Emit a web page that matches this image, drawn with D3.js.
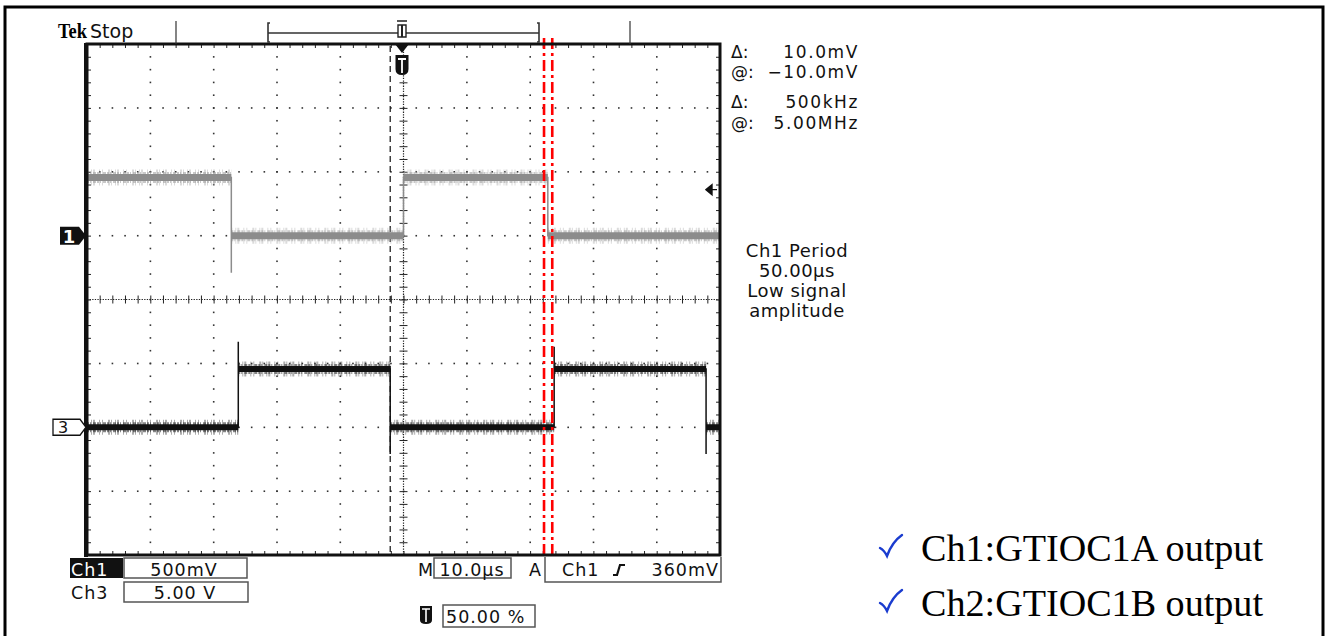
<!DOCTYPE html>
<html>
<head>
<meta charset="utf-8">
<script src="https://cdn.jsdelivr.net/npm/d3@7"></script>
<style>
    body { margin: 0; background: #fff; }
    svg { display: block; }
    .scr { font-family: 'DejaVu Sans', sans-serif; fill: #111; }
</style>
</head>
<body>
<svg id="scope" width="1327" height="636"></svg>
<script>
// Screen: 10 horizontal divisions of 10 us, 8 vertical divisions
const timeDomain = [-50, 50];      // us
const divDomain = [4, -4];         // divisions, top to bottom

// Ch1 (500 mV/div, ground at +1 div), gray trace
const ch1Ground = 1;
const ch1Scale = 500;
const ch1Time = [-50, -27.2, -27.2, -27.2, 0, 0, 22.8, 22.8, 50];
const ch1MilliV = [455, 455, -290, 0, 0, 455, 455, 0, 0];

// Ch3 (5 V/div, ground at -2 div), black trace
const ch3Ground = -2;
const ch3Scale = 5;
const ch3Time = [-50, -26.1, -26.1, -26.1, -2.1, -2.1, -2.1, 23.8, 23.8, 23.8, 47.8, 47.8, 47.8, 50];
const ch3Volts = [0, 0, 6.7, 4.55, 4.55, -2.1, 0, 0, 6.3, 4.55, 4.55, -2.1, 0, 0];

// Cursors and trigger
const redCursors = [22.2, 23.5];   // us
const blackCursor = -2.1;          // us
const triggerLevel = 360;          // mV on Ch1

const measureLines = [['\u0394:', '10.0mV'], ['@:', '\u221210.0mV'], ['\u0394:', '500kHz'], ['@:', '5.00MHz']];
const periodLines = ['Ch1 Period', '50.00\u00b5s', 'Low signal', 'amplitude'];
const legendLines = ['Ch1:GTIOC1A output', 'Ch2:GTIOC1B output'];

const svg = d3.select( '#scope' );

const x = d3.scaleLinear().domain( timeDomain ).range( [87, 720] );
const yDiv = d3.scaleLinear().domain( divDomain ).range( [44, 555] );
const y1 = v => yDiv( ch1Ground + v / ch1Scale );
const y3 = v => yDiv( ch3Ground + v / ch3Scale );

// Outer page frame
svg.append( 'rect' )
    .attr( 'x', 5 ).attr( 'y', 7 )
    .attr( 'width', 1318 ).attr( 'height', 640 )
    .attr( 'fill', 'none' ).attr( 'stroke', '#000' ).attr( 'stroke-width', 3 );

// Grid dots
const grid = svg.append( 'g' ).attr( 'fill', '#333' );
const minorT = d3.range( -50, 50.01, 2 );
const minorD = d3.range( -4, 4.01, 0.2 );
d3.range( -40, 41, 10 ).filter( t => t !== 0 ).forEach( t => {
    grid.selectAll( null ).data( minorD ).join( 'rect' )
        .attr( 'x', x( t ) - 0.7 ).attr( 'y', d => yDiv( d ) - 0.7 )
        .attr( 'width', 1.6 ).attr( 'height', 1.6 );
} );
d3.range( -3, 4, 1 ).filter( d => d !== 0 ).forEach( dv => {
    grid.selectAll( null ).data( minorT ).join( 'rect' )
        .attr( 'x', t => x( t ) - 0.7 ).attr( 'y', yDiv( dv ) - 0.7 )
        .attr( 'width', 1.6 ).attr( 'height', 1.6 );
} );

// Center cross: dense dotted lines plus tick marks
svg.append( 'line' )
    .attr( 'x1', x( 0 ) ).attr( 'x2', x( 0 ) ).attr( 'y1', 44 ).attr( 'y2', 555 )
    .attr( 'stroke', '#222' ).attr( 'stroke-width', 1.2 ).attr( 'stroke-dasharray', '1.3,1.3' );
svg.append( 'line' )
    .attr( 'x1', 87 ).attr( 'x2', 720 ).attr( 'y1', yDiv( 0 ) ).attr( 'y2', yDiv( 0 ) )
    .attr( 'stroke', '#222' ).attr( 'stroke-width', 1.2 ).attr( 'stroke-dasharray', '1.3,1.3' );

function ticks( axis, tx, ty ) {
    const g = svg.append( 'g' ).attr( 'transform', 'translate(' + tx + ',' + ty + ')' ).call( axis );
    g.select( '.domain' ).remove();
    g.selectAll( 'line' ).attr( 'stroke', '#222' ).attr( 'stroke-width', 1 );
    g.selectAll( 'text' ).remove();
    return g;
}
ticks( d3.axisBottom( x ).tickValues( minorT ).tickSize( 8 ).tickFormat( '' ), 0, yDiv( 0 ) - 4 );
ticks( d3.axisRight( yDiv ).tickValues( minorD ).tickSize( 8 ).tickFormat( '' ), x( 0 ) - 4, 0 );
ticks( d3.axisBottom( x ).tickValues( minorT ).tickSize( 4 ).tickFormat( '' ), 0, 44 );
ticks( d3.axisTop( x ).tickValues( minorT ).tickSize( 4 ).tickFormat( '' ), 0, 555 );
ticks( d3.axisRight( yDiv ).tickValues( minorD ).tickSize( 4 ).tickFormat( '' ), 87, 0 );
ticks( d3.axisLeft( yDiv ).tickValues( minorD ).tickSize( 4 ).tickFormat( '' ), 720, 0 );

// Black dashed cursor
svg.append( 'line' )
    .attr( 'x1', x( blackCursor ) ).attr( 'x2', x( blackCursor ) ).attr( 'y1', 46 ).attr( 'y2', 555 )
    .attr( 'stroke', '#111' ).attr( 'stroke-width', 1.2 ).attr( 'stroke-dasharray', '6,4' );

// Traces
function drawTrace( times, values, yFn, core, halo, coreW ) {
    const pts = times.map( ( t, i ) => [x( t ), yFn( values[i] )] );
    const g = svg.append( 'g' );
    for ( let i = 1; i < pts.length; i++ ) {
        if ( values[i] === values[i - 1] && times[i] !== times[i - 1] ) {
            const seg = [pts[i - 1], pts[i]];
            g.append( 'path' ).attr( 'd', d3.line()( seg ) )
                .attr( 'fill', 'none' ).attr( 'stroke', halo ).attr( 'stroke-width', coreW + 9 )
                .attr( 'stroke-dasharray', '1,3,1,1,2,4,1,2,1,5,2,1' ).attr( 'opacity', 0.4 );
            g.append( 'path' ).attr( 'd', d3.line()( seg ) )
                .attr( 'fill', 'none' ).attr( 'stroke', halo ).attr( 'stroke-width', coreW + 4 )
                .attr( 'stroke-dasharray', '2,1,1,2,3,1' ).attr( 'opacity', 0.6 );
            g.append( 'path' ).attr( 'd', d3.line()( seg ) )
                .attr( 'fill', 'none' ).attr( 'stroke', core ).attr( 'stroke-width', coreW );
        }
    }
    g.append( 'path' ).attr( 'd', d3.line()( pts ) )
        .attr( 'fill', 'none' ).attr( 'stroke', core ).attr( 'stroke-width', 1.5 );
}
drawTrace( ch1Time, ch1MilliV, y1, '#8c8c8c', '#a4a4a4', 7 );
drawTrace( ch3Time, ch3Volts, y3, '#111', '#333', 6 );

// Red dash-dot cursors
svg.selectAll( null ).data( redCursors ).join( 'line' )
    .attr( 'x1', d => x( d ) ).attr( 'x2', d => x( d ) )
    .attr( 'y1', 38 ).attr( 'y2', 558 )
    .attr( 'stroke', '#f00' ).attr( 'stroke-width', 2.6 )
    .attr( 'stroke-dasharray', '11,4,3,4' );

// Screen frame
svg.append( 'rect' )
    .attr( 'x', 87 ).attr( 'y', 44 ).attr( 'width', 633 ).attr( 'height', 511 )
    .attr( 'fill', 'none' ).attr( 'stroke', '#111' ).attr( 'stroke-width', 3 );
svg.append( 'line' ).attr( 'x1', 86 ).attr( 'x2', 86 ).attr( 'y1', 43 ).attr( 'y2', 557 )
    .attr( 'stroke', '#111' ).attr( 'stroke-width', 4 );

// Header
svg.append( 'text' ).attr( 'x', 58 ).attr( 'y', 38 )
    .attr( 'font-family', 'Liberation Serif, serif' ).attr( 'font-weight', 'bold' )
    .attr( 'font-size', 21 ).attr( 'textLength', 29 ).attr( 'lengthAdjust', 'spacingAndGlyphs' )
    .text( 'Tek' );
svg.append( 'text' ).attr( 'class', 'scr' ).attr( 'x', 90 ).attr( 'y', 38 )
    .attr( 'font-size', 19 ).text( 'Stop' );
[176, 630].forEach( px => svg.append( 'line' )
    .attr( 'x1', px ).attr( 'x2', px ).attr( 'y1', 21 ).attr( 'y2', 44 )
    .attr( 'stroke', '#333' ).attr( 'stroke-width', 1.2 ) );
svg.append( 'path' )
    .attr( 'd', 'M270,23 L268,23 L268,42 L270,42 M268,33 L539,33 M537,23 L539,23 L539,42 L537,42' )
    .attr( 'fill', 'none' ).attr( 'stroke', '#333' ).attr( 'stroke-width', 1.6 );
// record position / trigger marker
const tx0 = x( 0 ) - 1.5;
svg.append( 'path' ).attr( 'd', `M${tx0 - 5},21 L${tx0 + 5},21 M${tx0 - 4},25 L${tx0 + 4},25 L${tx0 + 4},37 L${tx0 - 4},37 Z` )
    .attr( 'fill', '#fff' ).attr( 'stroke', '#222' ).attr( 'stroke-width', 1.4 );
svg.append( 'line' ).attr( 'x1', tx0 ).attr( 'x2', tx0 ).attr( 'y1', 25 ).attr( 'y2', 37 )
    .attr( 'stroke', '#222' ).attr( 'stroke-width', 2 );
svg.append( 'path' ).attr( 'd', `M${tx0 - 7},44 L${tx0 + 7},44 L${tx0},53 Z` ).attr( 'fill', '#111' );
svg.append( 'path' ).attr( 'd', `M${tx0 - 6.5},55 L${tx0 + 6.5},55 L${tx0 + 6.5},69 Q${tx0 + 6.5},75 ${tx0},75 Q${tx0 - 6.5},75 ${tx0 - 6.5},69 Z` )
    .attr( 'fill', '#111' );
svg.append( 'path' ).attr( 'd', `M${tx0 - 4},59 L${tx0 + 4},59 M${tx0},59 L${tx0},73` )
    .attr( 'stroke', '#fff' ).attr( 'stroke-width', 1.8 );

// Channel ground markers
svg.append( 'path' )
    .attr( 'd', `M60,${y1( 0 ) - 9} L79,${y1( 0 ) - 9} L86,${y1( 0 )} L79,${y1( 0 ) + 9} L60,${y1( 0 ) + 9} Z` )
    .attr( 'fill', '#111' );
svg.append( 'text' ).attr( 'class', 'scr' ).attr( 'x', 69 ).attr( 'y', y1( 0 ) + 7 )
    .attr( 'text-anchor', 'middle' ).attr( 'font-size', 18 ).attr( 'font-weight', 'bold' )
    .style( 'fill', '#fff' ).text( '1' );
svg.append( 'path' )
    .attr( 'd', `M53,${y3( 0 ) - 8} L80,${y3( 0 ) - 8} L86,${y3( 0 )} L80,${y3( 0 ) + 8} L53,${y3( 0 ) + 8} Z` )
    .attr( 'fill', '#fff' ).attr( 'stroke', '#111' ).attr( 'stroke-width', 1.3 );
svg.append( 'text' ).attr( 'class', 'scr' ).attr( 'x', 63 ).attr( 'y', y3( 0 ) + 6 )
    .attr( 'text-anchor', 'middle' ).attr( 'font-size', 16 ).text( '3' );

// Trigger level arrow
svg.append( 'path' )
    .attr( 'd', `M706,${y1( triggerLevel )} L712,${y1( triggerLevel ) - 5} L712,${y1( triggerLevel ) + 5} Z M711,${y1( triggerLevel )} L717,${y1( triggerLevel )}` )
    .attr( 'fill', '#111' ).attr( 'stroke', '#111' ).attr( 'stroke-width', 1.4 );

// Measurement readouts
const mY = [58, 78, 108, 129];
measureLines.forEach( ( m, i ) => {
    svg.append( 'text' ).attr( 'class', 'scr' ).attr( 'x', 731 ).attr( 'y', mY[i] )
        .attr( 'font-size', 17 ).text( m[0] );
    svg.append( 'text' ).attr( 'class', 'scr' ).attr( 'x', 859 ).attr( 'y', mY[i] )
        .attr( 'text-anchor', 'end' ).attr( 'font-size', 17 ).attr( 'letter-spacing', 1.6 ).text( m[1] );
} );
periodLines.forEach( ( s, i ) => {
    svg.append( 'text' ).attr( 'class', 'scr' ).attr( 'x', 797 ).attr( 'y', 257 + i * 20 )
        .attr( 'text-anchor', 'middle' ).attr( 'font-size', 18 ).attr( 'letter-spacing', 0.5 ).text( s );
} );

// Bottom readouts
function box( bx, by, w, h ) {
    svg.append( 'rect' ).attr( 'x', bx ).attr( 'y', by ).attr( 'width', w ).attr( 'height', h )
        .attr( 'fill', 'none' ).attr( 'stroke', '#555' ).attr( 'stroke-width', 1.5 );
}
function label( tx, ty, s, anchor ) {
    return svg.append( 'text' ).attr( 'class', 'scr' ).attr( 'x', tx ).attr( 'y', ty )
        .attr( 'font-size', 17.5 ).attr( 'text-anchor', anchor || 'start' ).attr( 'letter-spacing', 1 ).text( s );
}
svg.append( 'rect' ).attr( 'x', 70 ).attr( 'y', 558 ).attr( 'width', 53 ).attr( 'height', 20 ).attr( 'fill', '#111' );
label( 71, 576, 'Ch1' ).style( 'fill', '#fff' );
box( 124, 558, 123, 20 );
label( 184, 576, '500mV', 'middle' );
label( 71, 599, 'Ch3' );
box( 124, 582, 124, 20 );
label( 185, 599, '5.00 V', 'middle' );
label( 418, 576, 'M' );
box( 434, 558, 77, 20 );
label( 472, 576, '10.0\u00b5s', 'middle' );
label( 529, 576, 'A' );
svg.append( 'path' ).attr( 'd', 'M545,557 L545,582 L721,582 L721,557' )
    .attr( 'fill', 'none' ).attr( 'stroke', '#555' ).attr( 'stroke-width', 1.5 );
label( 562, 576, 'Ch1' );
svg.append( 'path' ).attr( 'd', 'M613,575 L617,575 L620,565 L625,565' )
    .attr( 'fill', 'none' ).attr( 'stroke', '#111' ).attr( 'stroke-width', 2.2 );
label( 719, 576, '360mV', 'end' );
svg.append( 'path' ).attr( 'd', 'M420,606 L432,606 L432,620 Q432,624 426,624 Q420,624 420,620 Z' ).attr( 'fill', '#111' );
svg.append( 'path' ).attr( 'd', 'M422,609 L430,609 M426,609 L426,622' ).attr( 'stroke', '#fff' ).attr( 'stroke-width', 1.6 );
box( 443, 605, 92, 22 );
label( 446, 623, '50.00 %' );

// Legend
legendLines.forEach( ( s, i ) => {
    const ly = 561 + i * 55;
    svg.append( 'path' )
        .attr( 'd', `M880,${ly - 13} Q884,${ly - 11} 887,${ly - 5} Q892,${ly - 19} 902,${ly - 26}` )
        .attr( 'fill', 'none' ).attr( 'stroke', '#1a3ccf' ).attr( 'stroke-width', 2.4 )
        .attr( 'stroke-linecap', 'round' );
    svg.append( 'text' ).attr( 'x', 921 ).attr( 'y', ly )
        .attr( 'font-family', 'Liberation Serif, serif' ).attr( 'font-size', 37 )
        .attr( 'textLength', 342 ).attr( 'lengthAdjust', 'spacingAndGlyphs' )
        .attr( 'fill', '#000' ).text( s );
} );
</script>
</body>
</html>
